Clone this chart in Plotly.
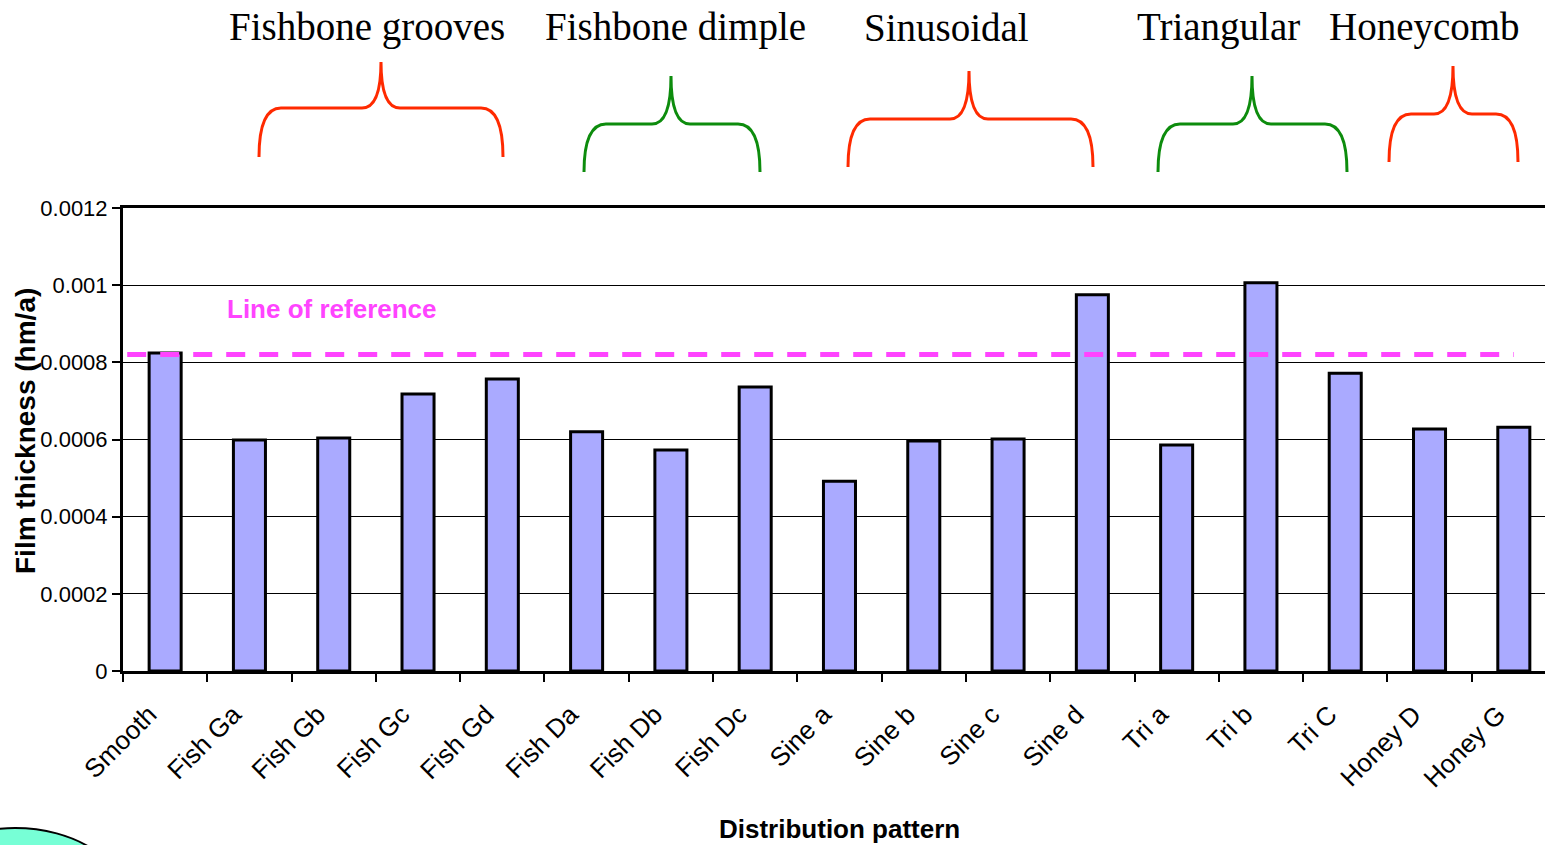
import plotly.graph_objects as go

# ---------------- data ----------------
categories = ["Smooth", "Fish Ga", "Fish Gb", "Fish Gc", "Fish Gd", "Fish Da", "Fish Db",
              "Fish Dc", "Sine a", "Sine b", "Sine c", "Sine d", "Tri a", "Tri b", "Tri C",
              "Honey D", "Honey G"]
film_thickness = [0.000824, 0.000599, 0.000604, 0.000718, 0.000757, 0.000620, 0.000573,
                  0.000736, 0.000492, 0.000596, 0.000601, 0.000975, 0.000586, 0.001006,
                  0.000772, 0.000627, 0.000632]
reference_value = 0.00082
y_tick_values = [0, 0.0002, 0.0004, 0.0006, 0.0008, 0.001, 0.0012]
y_tick_labels = ["0", "0.0002", "0.0004", "0.0006", "0.0008", "0.001", "0.0012"]
group_names = ["Fishbone grooves", "Fishbone dimple", "Sinusoidal", "Triangular", "Honeycomb"]
group_colors = ["#ff2a00", "#0d8c0d", "#ff2a00", "#0d8c0d", "#ff2a00"]

# ---------------- layout geometry (pixels) ----------------
W, H = 1545, 845
PL, PR, PT, PB = 123, 1545, 208, 671   # plot area


def px_x(px):
    return (px - PL) / (PR - PL)


def px_y(py):
    return (PB - py) / (PB - PT)


# brace geometry: (left x, right x, peak x, peak y, middle y, bottom y)
brace_geom = [(259, 503, 381, 62, 108, 157),
              (584, 760, 671, 76, 124, 172),
              (848, 1093, 969, 71, 119, 167),
              (1158, 1347, 1252, 76, 124, 172),
              (1389, 1518, 1453, 66, 114, 162)]
label_centers = [367, 675, 946, 1218, 1424]


def brace_path(x0, x1, xc, yt, ym, yb):
    r = 22
    r2 = 19
    pts = [
        ("M", [(x0, yb)]),
        ("Q", [(x0, ym), (x0 + r, ym)]),
        ("L", [(xc - r2, ym)]),
        ("Q", [(xc, ym), (xc, yt)]),
        ("Q", [(xc, ym), (xc + r2, ym)]),
        ("L", [(x1 - r, ym)]),
        ("Q", [(x1, ym), (x1, yb)]),
    ]
    s = ""
    for cmd, ps in pts:
        s += cmd + " " + " ".join(f"{px_x(a):.5f},{px_y(b):.5f}" for a, b in ps) + " "
    return s.strip()


fig = go.Figure()
fig.add_trace(go.Bar(
    x=categories, y=film_thickness,
    width=0.38,
    marker=dict(color="#aaaaff", line=dict(color="black", width=3)),
    hoverinfo="skip",
))

shapes = []
# reference line
shapes.append(dict(type="line", xref="x", yref="y", x0=-0.45, x1=16.0,
                   y0=reference_value, y1=reference_value,
                   line=dict(color="#ff44ff", width=5, dash="19px,14px"), layer="above"))
# braces
for g, c in zip(brace_geom, group_colors):
    shapes.append(dict(type="path", xref="paper", yref="paper", path=brace_path(*g),
                       line=dict(color=c, width=3)))
# cyan circle at bottom-left
shapes.append(dict(type="circle", xref="paper", yref="paper",
                   x0=px_x(15 - 113), x1=px_x(15 + 113),
                   y0=px_y(905 + 77), y1=px_y(828),
                   fillcolor="#77ffd6", line=dict(color="black", width=2), layer="above"))

annotations = []
for name, cx in zip(group_names, label_centers):
    annotations.append(dict(text=name, xref="paper", yref="paper", x=px_x(cx), y=px_y(27),
                            showarrow=False, xanchor="center", yanchor="middle",
                            font=dict(family="Liberation Serif, Times New Roman, serif",
                                      size=39, color="black")))
annotations.append(dict(text="<b>Line of reference</b>", xref="paper", yref="paper",
                        x=px_x(225), y=px_y(309), xanchor="left", yanchor="middle",
                        showarrow=False,
                        font=dict(family="Liberation Sans, Arial", size=26, color="#ff44ff")))
annotations.append(dict(text="<b>Film thickness (hm/a)</b>", xref="paper", yref="paper",
                        x=px_x(25), y=px_y(431), xanchor="center", yanchor="middle",
                        textangle=-90, showarrow=False,
                        font=dict(family="Liberation Sans, Arial", size=28, color="black")))
annotations.append(dict(text="<b>Distribution pattern</b>", xref="paper", yref="paper",
                        x=px_x(840), y=px_y(829), xanchor="center", yanchor="middle",
                        showarrow=False,
                        font=dict(family="Liberation Sans, Arial", size=26, color="black")))

fig.update_layout(
    width=W, height=H,
    margin=dict(l=PL, r=W - PR, t=PT, b=H - PB, pad=0),
    paper_bgcolor="white", plot_bgcolor="white",
    showlegend=False,
    shapes=shapes, annotations=annotations,
    font=dict(family="Liberation Sans, Arial", color="black"),
    xaxis=dict(
        type="category", categoryorder="array", categoryarray=categories,
        range=[-0.5, 16.37], tickangle=-45, tickson="boundaries",
        tickfont=dict(size=26, color="black"),
        ticklabelshift=-16, ticklabelstandoff=15,
        showline=True, linecolor="black", linewidth=3, mirror=True,
        ticks="outside", ticklen=8, tickwidth=2, tickcolor="black",
        showgrid=False, zeroline=False,
    ),
    yaxis=dict(
        range=[0, 0.0012], tickmode="array", tickvals=y_tick_values, ticktext=y_tick_labels,
        tickfont=dict(size=22, color="black"),
        showline=True, linecolor="black", linewidth=3,
        ticks="outside", ticklen=8, tickwidth=2, tickcolor="black",
        showgrid=True, gridcolor="black", gridwidth=1, zeroline=False,
    ),
)

fig.write_html("out.html")
